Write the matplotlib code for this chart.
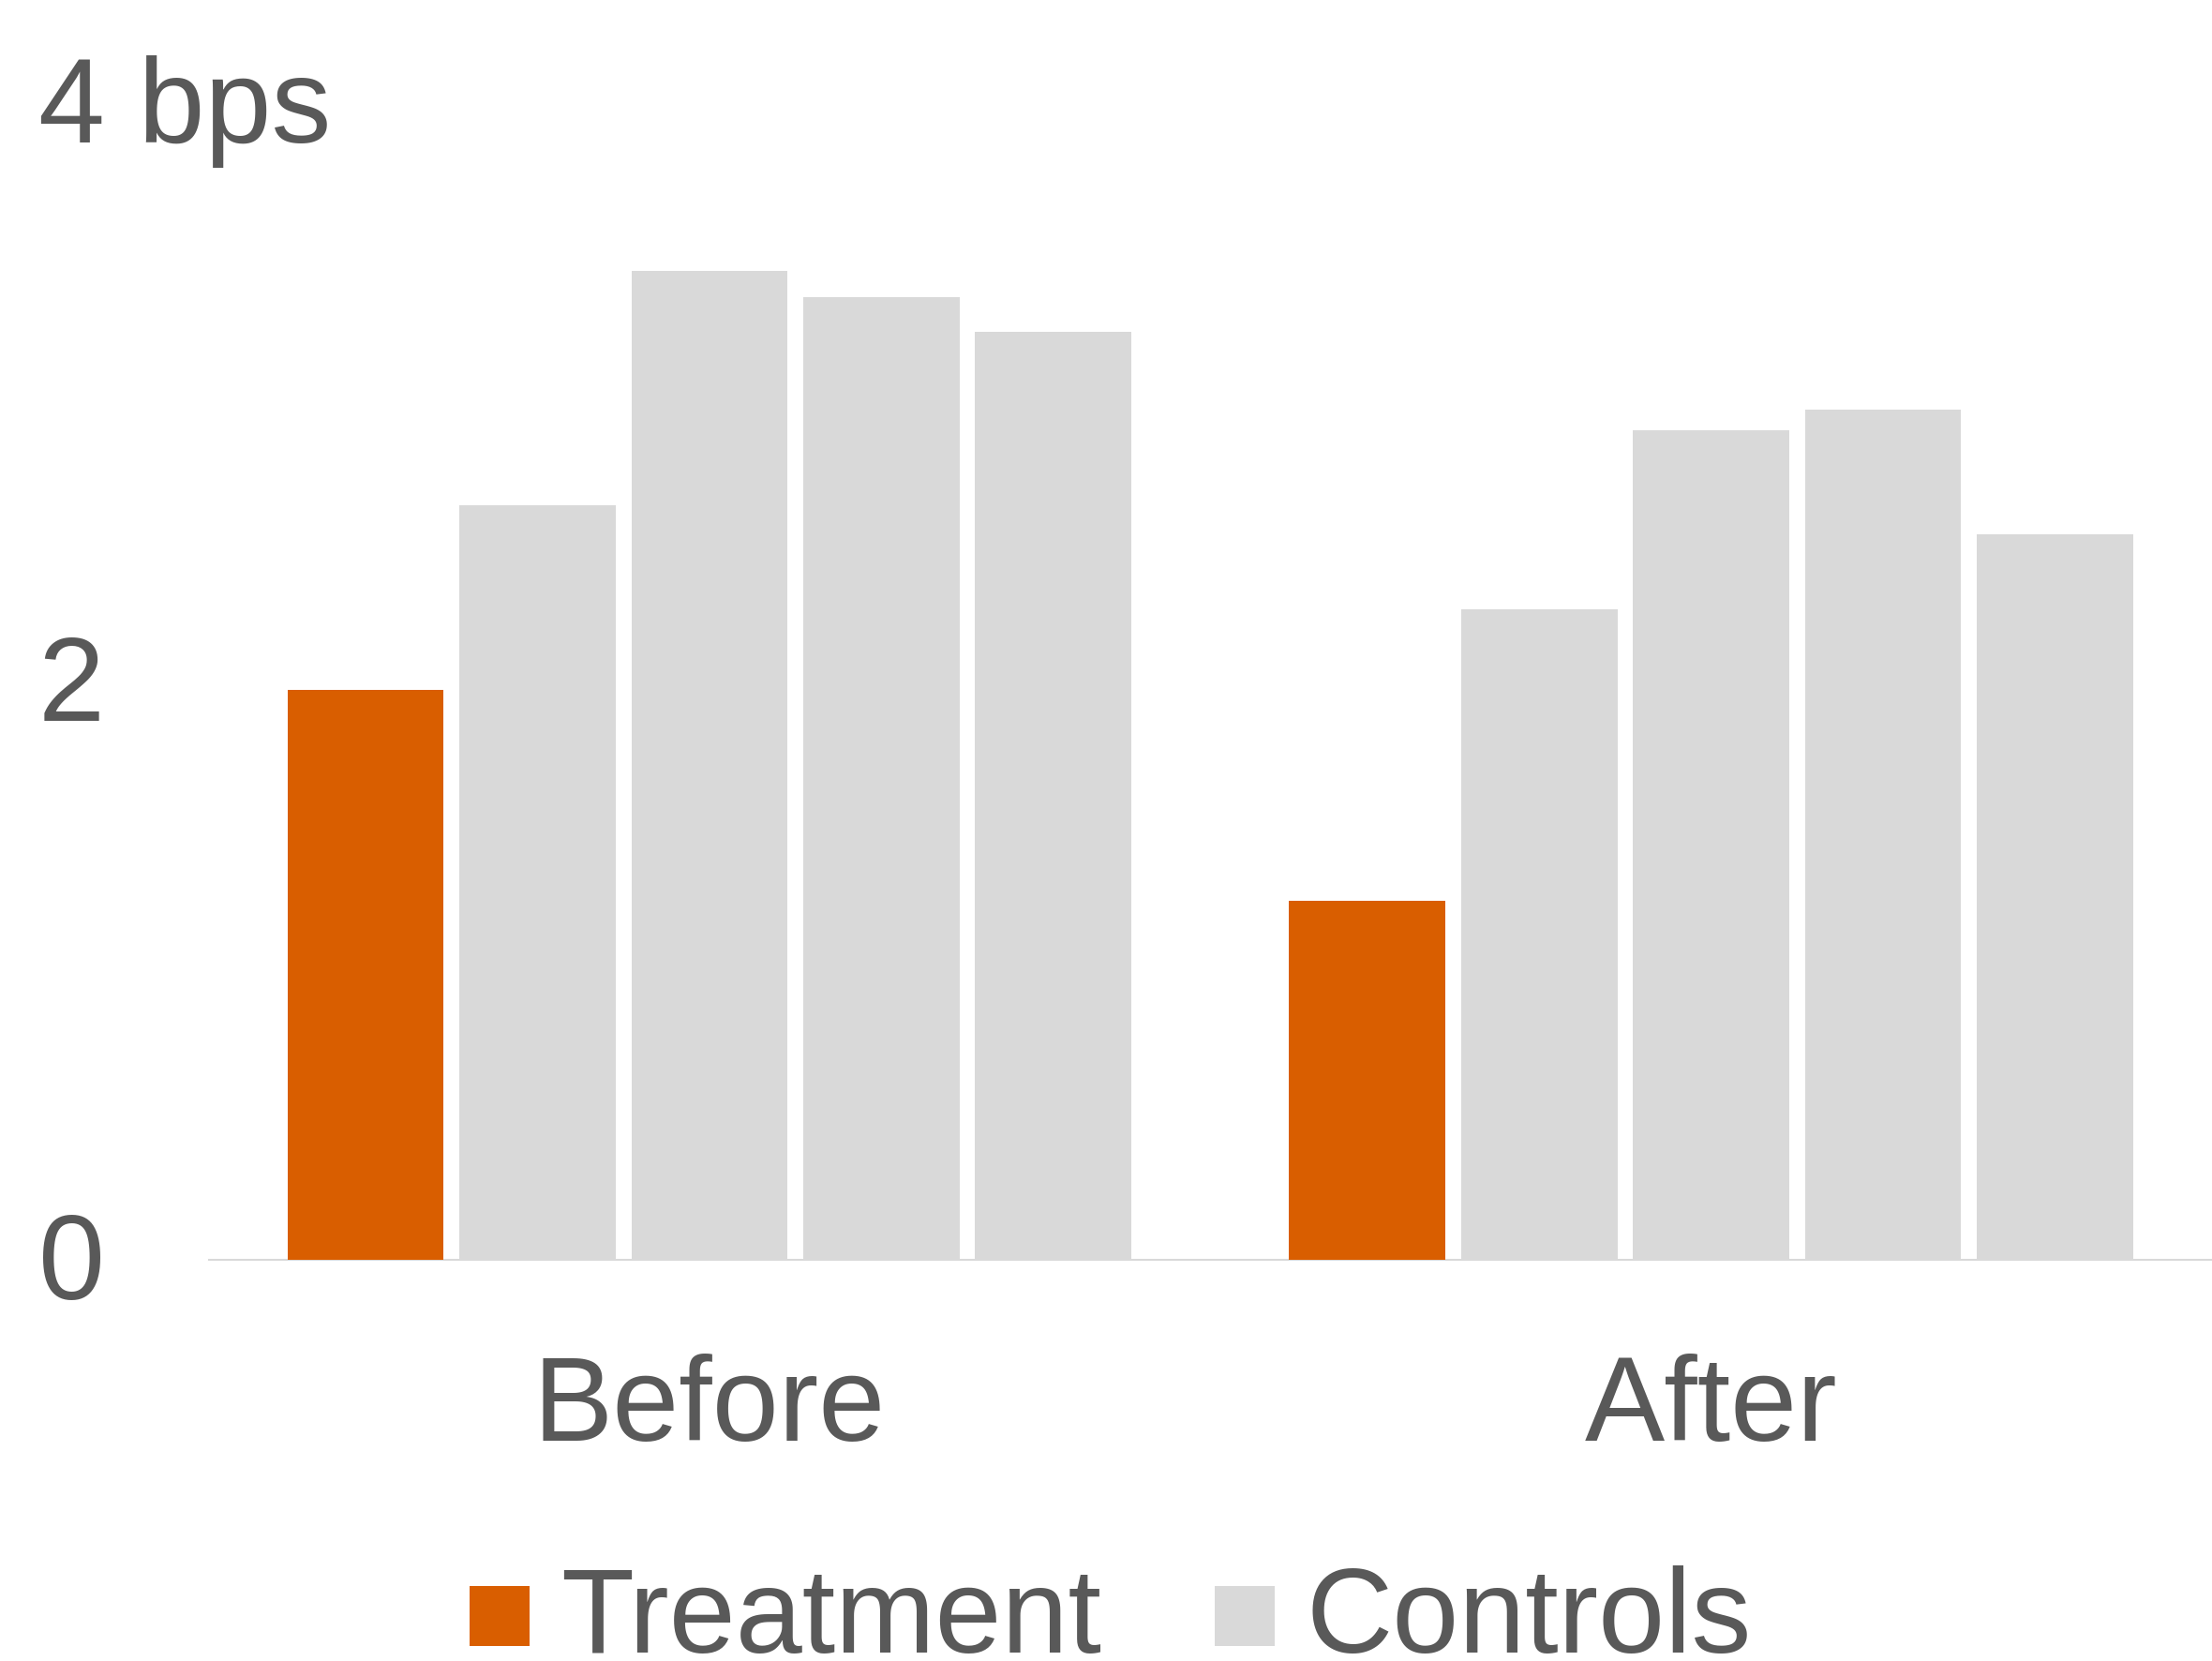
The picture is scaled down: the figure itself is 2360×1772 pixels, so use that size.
import matplotlib
matplotlib.use("Agg")
import matplotlib.pyplot as plt
import matplotlib.transforms as mtransforms
from matplotlib.legend_handler import HandlerPatch
from matplotlib.patches import Rectangle
import numpy as np

# Data
periods = ["Before", "After"]
treatment = [1.97, 1.24]
control_1 = [2.61, 2.25]
control_2 = [3.42, 2.87]
control_3 = [3.33, 2.94]
control_4 = [3.21, 2.51]
y_ticks = [0, 2, 4]
y_tick_labels = ["0", "2", "4 bps"]

ORANGE = "#D95E00"
GREY = "#D9D9D9"
TEXT = "#595959"
FS = 92

plt.rcParams["font.family"] = ["Liberation Sans", "DejaVu Sans"]

fig = plt.figure(figsize=(23.6, 17.72), dpi=100)
ax = fig.add_axes([0.0943, 0.2415, 0.9057, 0.6965])

x = np.arange(len(periods))
pitch = 0.1716
width = 0.156
series = [treatment, control_1, control_2, control_3, control_4]
colors = [ORANGE, GREY, GREY, GREY, GREY]
labels = ["Treatment", "Controls", None, None, None]
handles = []
for i, (vals, c, lab) in enumerate(zip(series, colors, labels)):
    b = ax.bar(x + (i - 2) * pitch, vals, width=width, color=c, zorder=3,
               label=lab)
    if lab:
        handles.append(b.patches[0])

ax.set_xlim(-0.5, 1.5)
ax.set_ylim(0, 4)

for s in ["top", "right", "left"]:
    ax.spines[s].set_visible(False)
ax.spines["bottom"].set_color(GREY)
ax.spines["bottom"].set_linewidth(1.5)
ax.spines["bottom"].set_zorder(2)

ax.set_xticks(x)
ax.set_xticklabels(periods, fontsize=FS, color=TEXT)
ax.tick_params(axis="x", length=0, pad=72)

ax.set_yticks(y_ticks)
ax.set_yticklabels(y_tick_labels, fontsize=FS, color=TEXT)
ax.tick_params(axis="y", length=0, pad=131)
# nudge y labels slightly upward
offset = mtransforms.ScaledTranslation(0, 3.3 / 72, fig.dpi_scale_trans)
for t in ax.get_yticklabels():
    t.set_horizontalalignment("left")
    t.set_transform(t.get_transform() + offset)


def square_patch(legend, orig_handle, xdescent, ydescent, width, height,
                 fontsize):
    # square swatch sitting just above the text baseline
    side = 0.495 * fontsize
    return Rectangle((-xdescent, 0.06 * fontsize), width, side)


leg = fig.legend(handles=handles, labels=["Treatment", "Controls"],
                 loc="center", bbox_to_anchor=(0.502, 0.0235), ncol=2,
                 frameon=False, fontsize=FS, handlelength=0.5,
                 handleheight=0.45, handletextpad=0.26, columnspacing=0.95,
                 borderpad=0,
                 handler_map={Rectangle: HandlerPatch(patch_func=square_patch)})
for t in leg.get_texts():
    t.set_color(TEXT)

fig.savefig("out.png", dpi=100, facecolor="white")
